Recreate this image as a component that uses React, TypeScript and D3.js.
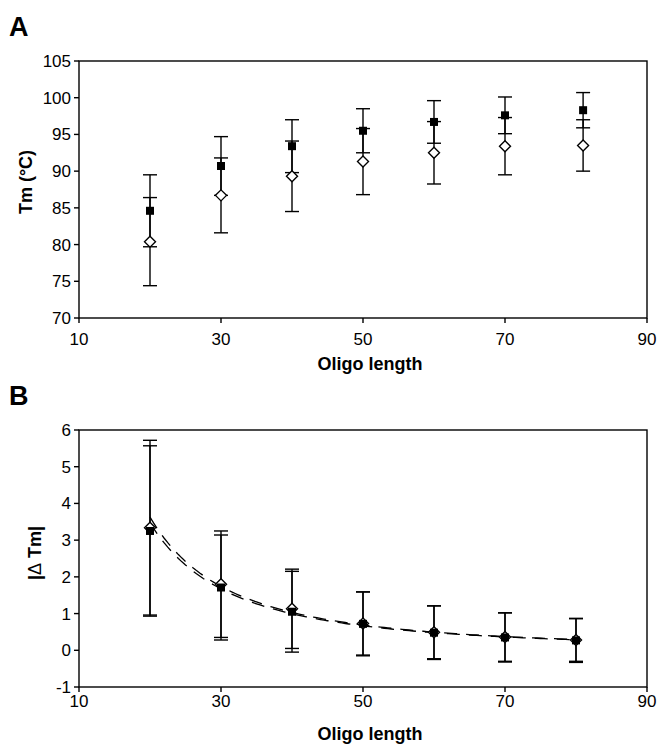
import React from "react";
import * as d3 from "d3";

// ---- Data ----
const lengthsA = [20, 30, 40, 50, 60, 70, 81];
const tmSquare = [84.6, 90.7, 93.4, 95.5, 96.7, 97.6, 98.3];
const tmSquareErr = [4.9, 4.0, 3.6, 3.0, 2.9, 2.5, 2.4];
const tmDiamond = [80.4, 86.7, 89.3, 91.3, 92.5, 93.4, 93.5];
const tmDiamondErr = [6.0, 5.1, 4.8, 4.5, 4.25, 3.9, 3.5];

const lengthsB = [20, 30, 40, 50, 60, 70, 80];
const dSquare = [3.25, 1.71, 1.05, 0.72, 0.48, 0.35, 0.27];
const dSquareErr = [2.32, 1.43, 1.1, 0.87, 0.73, 0.67, 0.6];
const dDiamond = [3.34, 1.8, 1.13, 0.73, 0.49, 0.36, 0.28];
const dDiamondErr = [2.38, 1.45, 1.08, 0.86, 0.72, 0.66, 0.58];

const xTicks = [10, 30, 50, 70, 90];
const yTicksA = [70, 75, 80, 85, 90, 95, 100, 105];
const yTicksB = [-1, 0, 1, 2, 3, 4, 5, 6];

const FONT = "'Liberation Sans', Arial, Helvetica, sans-serif";

// power-law least squares fit (Excel power trendline)
function powerFit(xs: number[], ys: number[]) {
  const lx = xs.map(Math.log);
  const ly = ys.map(Math.log);
  const mx = d3.mean(lx) as number;
  const my = d3.mean(ly) as number;
  let sxy = 0, sxx = 0;
  lx.forEach((v, i) => {
    sxy += (v - mx) * (ly[i] - my);
    sxx += (v - mx) * (v - mx);
  });
  const b = sxy / sxx;
  const a = Math.exp(my - b * mx);
  return (x: number) => a * Math.pow(x, b);
}

type Series = { xs: number[]; ys: number[]; errs: number[]; kind: "square" | "diamond" };

function Panel(props: {
  top: number;
  bottom: number;
  yDomain: [number, number];
  yTicks: number[];
  series: Series[];
  trend?: boolean;
  label: string;
  labelY: number;
  yTitle: React.ReactNode;
  yTitleX: number;
  yTitleY: number;
  xLabelY: number;
  xTitleY: number;
  sq: number;
}) {
  const left = 79, right = 647;
  const x = d3.scaleLinear().domain([10, 90]).range([left, right]);
  const y = d3.scaleLinear().domain(props.yDomain).range([props.bottom, props.top]);
  const sw = 1.4;
  const cap = 7;
  const diamonds = props.series.filter((s) => s.kind === "diamond");
  const squares = props.series.filter((s) => s.kind === "square");
  const ordered = [...diamonds, ...squares];

  return (
    <g>
      <text x={9} y={props.labelY} fontFamily={FONT} fontWeight="bold" fontSize={27} transform="" >
        {props.label}
      </text>
      <rect
        x={left}
        y={props.top}
        width={right - left}
        height={props.bottom - props.top}
        fill="none"
        stroke="#000"
        strokeWidth={sw}
      />
      {props.yTicks.map((t) => (
        <g key={"y" + t}>
          <line x1={left - 5} x2={left} y1={y(t)} y2={y(t)} stroke="#000" strokeWidth={sw} />
          <text
            x={left - 8}
            y={y(t) + 6}
            textAnchor="end"
            fontFamily={FONT}
            fontSize={17}
          >
            {t}
          </text>
        </g>
      ))}
      {xTicks.map((t) => (
        <g key={"x" + t}>
          <line x1={x(t)} x2={x(t)} y1={props.bottom} y2={props.bottom + 5} stroke="#000" strokeWidth={sw} />
          <text x={x(t)} y={props.xLabelY} textAnchor="middle" fontFamily={FONT} fontSize={17}>
            {t}
          </text>
        </g>
      ))}
      <text
        x={370}
        y={props.xTitleY}
        textAnchor="middle"
        fontFamily={FONT}
        fontWeight="bold"
        fontSize={18}
      >
        Oligo length
      </text>
      <text
        transform={`translate(${props.yTitleX},${props.yTitleY}) rotate(-90)`}
        textAnchor="middle"
        fontFamily={FONT}
        fontWeight="bold"
        fontSize={18}
      >
        {props.yTitle}
      </text>

      {/* error bars */}
      {ordered.map((s, si) =>
        s.xs.map((xv, i) => {
          const cx = x(xv);
          const y1 = y(s.ys[i] + s.errs[i]);
          const y2 = y(s.ys[i] - s.errs[i]);
          return (
            <g key={`e${si}-${i}`} stroke="#000" strokeWidth={sw}>
              <line x1={cx} x2={cx} y1={y1} y2={y2} />
              <line x1={cx - cap} x2={cx + cap} y1={y1} y2={y1} />
              <line x1={cx - cap} x2={cx + cap} y1={y2} y2={y2} />
            </g>
          );
        })
      )}

      {/* trend lines */}
      {props.trend &&
        props.series.map((s, si) => {
          const f = powerFit(s.xs, s.ys);
          const [x0, x1] = d3.extent(s.xs) as [number, number];
          const pts = d3.range(x0, x1 + 0.001, 0.5).map((v) => [x(v), y(f(v))] as [number, number]);
          const line = d3.line();
          return (
            <path
              key={"t" + si}
              d={line(pts) || ""}
              fill="none"
              stroke="#000"
              strokeWidth={1.3}
              strokeDasharray="13,9"
            />
          );
        })}

      {/* markers */}
      {ordered.map((s, si) =>
        s.xs.map((xv, i) => {
          const cx = x(xv);
          const cy = y(s.ys[i]);
          if (s.kind === "square") {
            const h = props.sq / 2;
            return <rect key={`m${si}-${i}`} x={cx - h} y={cy - h} width={props.sq} height={props.sq} fill="#000" />;
          }
          const r = 5.5;
          return (
            <path
              key={`m${si}-${i}`}
              d={`M${cx},${cy - r}L${cx + r},${cy}L${cx},${cy + r}L${cx - r},${cy}Z`}
              fill="#fff"
              stroke="#000"
              strokeWidth={1.4}
            />
          );
        })
      )}
    </g>
  );
}

export default function App() {
  return (
    <svg
      width={657}
      height={744}
      style={{ position: "absolute", left: 0, top: 0, background: "#fff" }}
    >
      <rect width={657} height={744} fill="#fff" />
      <Panel
        top={61}
        bottom={318}
        yDomain={[70, 105]}
        yTicks={yTicksA}
        series={[
          { xs: lengthsA, ys: tmDiamond, errs: tmDiamondErr, kind: "diamond" },
          { xs: lengthsA, ys: tmSquare, errs: tmSquareErr, kind: "square" },
        ]}
        label="A"
        labelY={36}
        yTitle="Tm (°C)"
        yTitleX={32}
        yTitleY={182}
        xLabelY={345}
        xTitleY={370}
        sq={8}
      />
      <Panel
        top={430}
        bottom={687}
        yDomain={[-1, 6]}
        yTicks={yTicksB}
        series={[
          { xs: lengthsB, ys: dDiamond, errs: dDiamondErr, kind: "diamond" },
          { xs: lengthsB, ys: dSquare, errs: dSquareErr, kind: "square" },
        ]}
        trend
        label="B"
        labelY={405}
        yTitle={
          <>
            |<tspan fontWeight="normal">Δ</tspan> Tm|
          </>
        }
        yTitleX={41}
        yTitleY={553}
        xLabelY={707}
        xTitleY={740}
        sq={8}
      />
    </svg>
  );
}
